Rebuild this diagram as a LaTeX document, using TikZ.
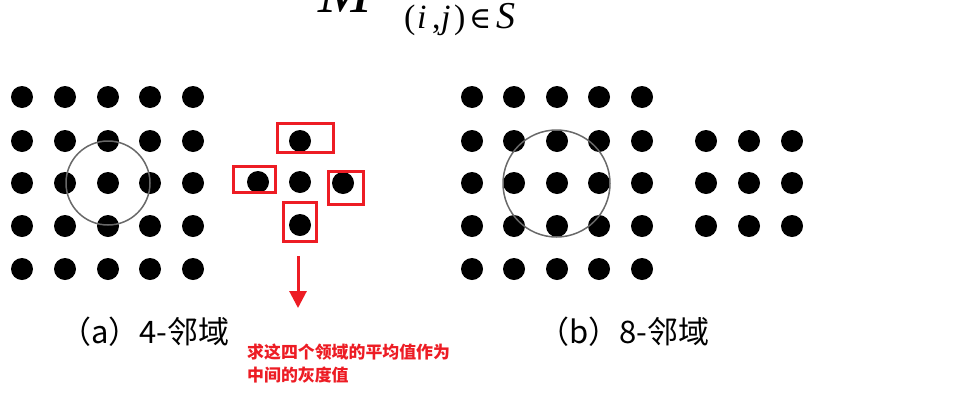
\documentclass[tikz,border=0pt]{standalone}
\usepackage{fontspec}
\setmainfont{Liberation Serif}
\newfontfamily\cjk{Noto Sans CJK SC}
\newfontfamily\symserif{DejaVu Serif}
\usetikzlibrary{arrows.meta}
\definecolor{mkred}{RGB}{237,28,36}
\definecolor{ringgray}{RGB}{105,105,105}
\newcommand{\gl}[2]{\makebox[#1pt][l]{#2}}
\tikzset{
  dot/.style={circle,fill=black,draw=none,minimum size=22pt,inner sep=0pt},
  ring/.style={draw=ringgray,line width=1.5pt},
  redbox/.style={draw=mkred,line width=3pt,rectangle,inner sep=0pt},
  redarrow/.style={draw=mkred,line width=3pt,-{Triangle[length=17pt,width=17pt]}},
  caption/.style={font=\cjk\fontsize{31}{34}\selectfont,anchor=west,inner sep=0pt},
  note/.style={font=\cjk\bfseries\fontsize{16.9}{23}\selectfont,text=mkred,anchor=north west,align=left,inner sep=0pt}
}
\begin{document}
\begin{tikzpicture}[x=1pt,y=-1pt]
\useasboundingbox (0,0) rectangle (973,418);
\fill[white] (0,0) rectangle (973,418);
% formula fragment at top
\node[anchor=base west,inner sep=0pt] (M) at (318,12) {\fontsize{64}{70}\selectfont\itshape M};
\node[anchor=base west,inner sep=0pt] (sub) at (404,28) {\fontsize{34}{36}\selectfont
  \gl{13}{(}\gl{15}{\textit{i}}\gl{9}{,}\gl{13}{\textit{j}}\gl{15}{)}\gl{27}{{\symserif\fontsize{30}{32}\selectfont ∈}}{\fontsize{38}{40}\selectfont\textit{S}}};
% grid (a)
\foreach \c/\x in {1/22,2/65,3/108,4/150,5/193}{
  \foreach \r/\y in {1/97,2/141,3/183,4/226,5/269}{
    \node[dot] (a\r\c) at (\x,\y) {};
  }
}
\draw[ring] (a33.center) circle[radius=42pt];
% grid (b)
\foreach \c/\x in {1/472,2/514,3/557,4/599,5/642}{
  \foreach \r/\y in {1/97,2/141,3/183,4/226,5/269}{
    \node[dot] (b\r\c) at (\x,\y) {};
  }
}
\draw[ring] (556.5,183.5) circle[radius=53.5pt];
% 4-neighbour cross
\node[dot] (ct) at (300,141) {};
\node[dot] (cl) at (258,182) {};
\node[dot] (cc) at (300,182) {};
\node[dot] (cr) at (343,183) {};
\node[dot] (cb) at (300,225) {};
\node[redbox,minimum width=56pt,minimum height=29pt] (bt) at (305,137.5) {};
\node[redbox,minimum width=42pt,minimum height=26pt] (bl) at (254,179) {};
\node[redbox,minimum width=35pt,minimum height=33pt] (br) at (345.5,187.5) {};
\node[redbox,minimum width=33pt,minimum height=39pt] (bb) at (299.5,221.5) {};
\coordinate (arrs) at (298,256);
\coordinate (arre) at (298,308);
\draw[redarrow] (arrs) -- (arre);
% 8-neighbour 3x3
\foreach \c/\x in {1/706,2/749,3/792}{
  \foreach \r/\y in {1/141,2/183,3/226}{
    \node[dot] (e\r\c) at (\x,\y) {};
  }
}
% captions
\node[caption] (capa) at (60,332) {（a）4-邻域};
\node[caption] (capb) at (538,332) {（b）8-邻域};
\node[note] (note) at (247,344) {求这四个领域的平均值作为\\中间的灰度值};
\end{tikzpicture}
\end{document}
